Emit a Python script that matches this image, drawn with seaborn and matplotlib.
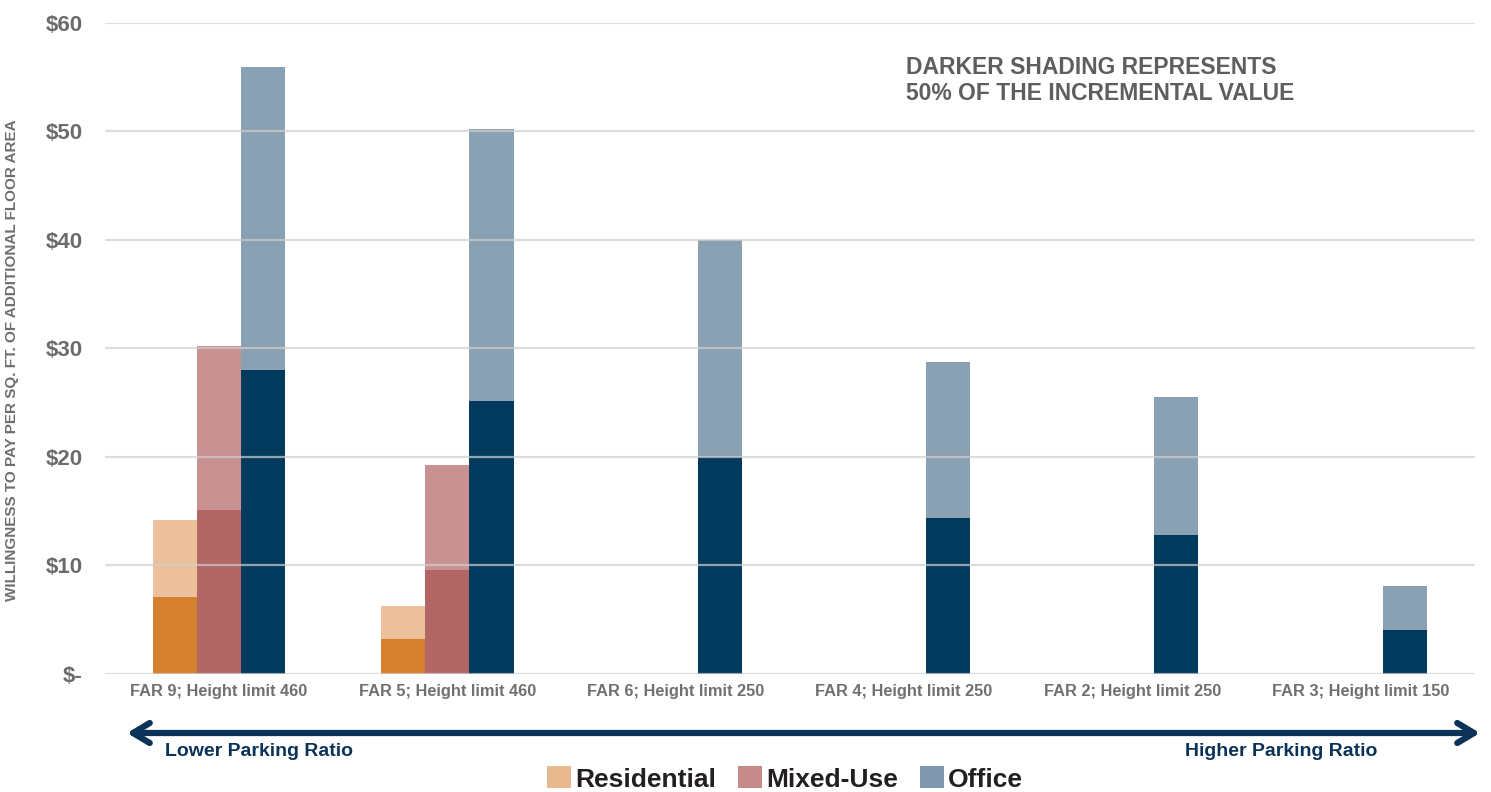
import matplotlib
matplotlib.use("Agg")
import matplotlib.pyplot as plt
from matplotlib.patches import Patch
import seaborn as sns
import pandas as pd

# Scenario categories (x axis)
categories = [
    "FAR 9; Height limit 460",
    "FAR 5; Height limit 460",
    "FAR 6; Height limit 250",
    "FAR 4; Height limit 250",
    "FAR 2; Height limit 250",
    "FAR 3; Height limit 150",
]
uses = ["Residential", "Mixed-Use", "Office"]

# Full incremental value per sq. ft. ($)
residential_full = [14.2, 6.3, 0, 0, 0, 0]
mixed_full = [30.2, 19.3, 0, 0, 0, 0]
office_full = [55.9, 50.2, 40.0, 28.8, 25.5, 8.1]

# 50% of the incremental value (darker shading)
residential_half = [7.1, 3.2, 0, 0, 0, 0]
mixed_half = [15.1, 9.6, 0, 0, 0, 0]
office_half = [28.0, 25.2, 20.0, 14.4, 12.8, 4.05]

ytick_values = [0, 10, 20, 30, 40, 50, 60]
ytick_labels = ["$-", "$10", "$20", "$30", "$40", "$50", "$60"]

light_colors = ["#EBC09A", "#CA9192", "#8AA0B3"]
dark_colors = ["#D5802E", "#B36666", "#023A5E"]
legend_colors = ["#E8B98F", "#C78A8A", "#7F98AE"]


def long_table(res, mix, off):
    rows = []
    for i, c in enumerate(categories):
        for u, vals in zip(uses, (res, mix, off)):
            rows.append({"scenario": c, "use": u, "value": vals[i]})
    return pd.DataFrame(rows)


full_df = long_table(residential_full, mixed_full, office_full)
half_df = long_table(residential_half, mixed_half, office_half)

sns.set_theme(style="white")
narrow = ["Liberation Sans Narrow", "Liberation Sans", "DejaVu Sans"]
plt.rcParams["font.family"] = ["Liberation Sans", "DejaVu Sans"]

fig = plt.figure(figsize=(14.91, 7.92), dpi=100)
ax = fig.add_axes([0.0704, 0.149, 0.9186, 0.822])

sns.barplot(data=full_df, x="scenario", y="value", hue="use", order=categories,
            hue_order=uses, palette=light_colors, width=0.58, ax=ax,
            errorbar=None, legend=False, linewidth=0, saturation=1)
sns.barplot(data=half_df, x="scenario", y="value", hue="use", order=categories,
            hue_order=uses, palette=dark_colors, width=0.58, ax=ax,
            errorbar=None, legend=False, linewidth=0, saturation=1)

ax.set_ylim(0, 60)
ax.set_xlim(-0.5, len(categories) - 0.5)
ax.set_yticks(ytick_values)
ax.set_yticklabels(ytick_labels, fontsize=16, fontweight="bold", color="#6B6B6B")
ax.set_xticks(range(len(categories)))
ax.set_xticklabels(categories, fontsize=11.8, color="#707070", family=narrow,
                   fontweight="bold")
ax.tick_params(axis="y", length=0, pad=16)
ax.tick_params(axis="x", length=0, pad=7)
for s in ax.spines.values():
    s.set_visible(False)

# light gridlines drawn over the bars
for v in ytick_values:
    ax.axhline(v, color="#CFCFCF", lw=1.6, alpha=0.7, zorder=5)

ax.set_xlabel("")
ax.set_ylabel("WILLINGNESS TO PAY PER SQ. FT. OF ADDITIONAL FLOOR AREA",
              fontsize=11, fontweight="bold", color="#6E6E6E", family=narrow)
ax.yaxis.set_label_coords(-0.063, 0.482)

ax.text(0.585, 0.95, "DARKER SHADING REPRESENTS\n50% OF THE INCREMENTAL VALUE",
        transform=ax.transAxes, ha="left", va="top", fontsize=16.5,
        fontweight="bold", color="#5E5E5E", linespacing=1.2)

# parking ratio direction arrow
navy = "#0B3358"
arrow_ax = fig.add_axes([0, 0, 1, 1], facecolor="none")
arrow_ax.set_xlim(0, 1491)
arrow_ax.set_ylim(792, 0)
arrow_ax.axis("off")
arrow_ax.annotate("", xy=(1480, 733), xytext=(127, 733),
                  arrowprops=dict(arrowstyle="<->,head_length=1.0,head_width=0.6",
                                  color=navy, lw=4.5, shrinkA=0, shrinkB=0))
arrow_ax.text(165, 752, "Lower Parking Ratio", ha="left", va="center",
              fontsize=14, fontweight="bold", color=navy, family=narrow)
arrow_ax.text(1377, 752, "Higher Parking Ratio", ha="right", va="center",
              fontsize=14, fontweight="bold", color=navy, family=narrow)

handles = [Patch(facecolor=c, edgecolor="none") for c in legend_colors]
fig.legend(handles, uses, loc="center", bbox_to_anchor=(785 / 1491, 1 - 779 / 792),
           ncol=3, frameon=False, prop={"size": 19, "weight": "bold"},
           handlelength=0.9, handleheight=0.9, handletextpad=0.15,
           columnspacing=0.85, labelcolor="#231F20")

fig.savefig("out.png", dpi=100)
